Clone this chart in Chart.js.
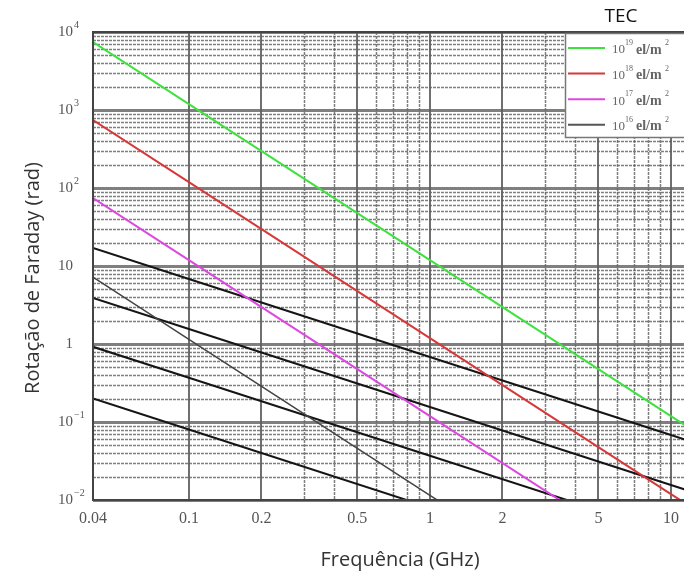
<!DOCTYPE html>
<html>
<head>
<meta charset="utf-8">
<title>Rotação de Faraday</title>
<script src="https://cdn.jsdelivr.net/npm/chart.js@4.4.1/dist/chart.umd.min.js"></script>
<style>
  html, body { margin: 0; padding: 0; background: #fff; overflow: hidden; }
  #wrap { position: relative; width: 700px; height: 574px; }
</style>
</head>
<body>
<div id="wrap"><canvas id="c" width="700" height="574"></canvas></div>
<script>
// Frequencies (GHz) at which each curve is sampled
const freqsGHz = [0.04, 0.1, 1, 10, 20];

// Faraday rotation (rad) for each total electron content
const tec19 = [7450, 1190, 11.9, 0.119, 0.0298];
const tec18 = [745, 119, 1.19, 0.0119, 0.003];
const tec17 = [74.5, 11.9, 0.119, 0.00119, 0.0003];
const tec16 = [17, 6.8, 0.68, 0.068, 0.034];

// Further reference curves (black)
const curveB = [7.2, 1.15, 0.0115, 0.000115, 0.00003];
const curveC = [3.9, 1.56, 0.156, 0.0156, 0.0078];
const curveD = [0.92, 0.37, 0.037, 0.0037, 0.0018];
const curveE = [0.2, 0.08, 0.008, 0.0008, 0.0004];

// Axis ticks and labels
const xTicks = [0.04, 0.1, 0.2, 0.5, 1, 2, 5, 10];
const xTickLabels = ['0.04', '0.1', '0.2', '0.5', '1', '2', '5', '10'];
const xMinorGrid = [0.3, 0.4, 0.6, 0.7, 0.8, 0.9, 3, 4, 6, 7, 8, 9];
const yTicks = [1e4, 1e3, 1e2, 10, 1, 0.1, 0.01];
const yTickBase = ['10', '10', '10', '10', '1', '10', '10'];
const yTickExp = ['4', '3', '2', '', '', '\u22121', '\u22122'];

// Legend entries
const legendExp = ['19', '18', '17', '16'];

const pts = vals => freqsGHz.map((f, i) => ({ x: f, y: vals[i] }));

const serif = '"Liberation Serif", "Times New Roman", serif';
const sans = '"Open Sans", "Noto Sans", sans-serif';

const framePlugin = {
  id: 'frame',
  beforeDatasetsDraw(chart) {
    const { ctx, chartArea: a, scales: { x, y } } = chart;
    ctx.save();
    // horizontal minor grid
    ctx.setLineDash([3, 1]);
    ctx.lineWidth = 1.5;
    ctx.strokeStyle = 'rgba(95,95,95,0.8)';
    for (let e = -2; e < 4; e++) {
      for (let m = 2; m <= 9; m++) {
        const py = Math.round(y.getPixelForValue(m * Math.pow(10, e))) + 0.5;
        ctx.beginPath(); ctx.moveTo(a.left, py); ctx.lineTo(a.right, py); ctx.stroke();
      }
    }
    // vertical minor grid
    xMinorGrid.forEach(v => {
      const px = Math.round(x.getPixelForValue(v)) + 0.5;
      ctx.beginPath(); ctx.moveTo(px, a.top); ctx.lineTo(px, a.bottom); ctx.stroke();
    });
    ctx.setLineDash([]);
    // horizontal decade lines
    ctx.lineWidth = 3;
    ctx.strokeStyle = 'rgba(105,105,105,0.85)';
    yTicks.forEach(v => {
      const py = Math.round(y.getPixelForValue(v)) + 0.5;
      ctx.beginPath(); ctx.moveTo(a.left, py); ctx.lineTo(a.right, py); ctx.stroke();
    });
    // vertical major grid
    ctx.lineWidth = 2;
    ctx.strokeStyle = 'rgba(95,95,95,0.9)';
    xTicks.forEach(v => {
      const px = Math.round(x.getPixelForValue(v));
      ctx.beginPath(); ctx.moveTo(px, a.top); ctx.lineTo(px, a.bottom); ctx.stroke();
    });
    ctx.restore();
  },
  afterDatasetsDraw(chart) {
    const { ctx, chartArea: a, scales: { x, y } } = chart;
    ctx.save();
    // frame
    ctx.strokeStyle = '#444';
    ctx.lineWidth = 2;
    ctx.beginPath();
    ctx.moveTo(a.right + 2, a.top); ctx.lineTo(a.left, a.top);
    ctx.lineTo(a.left, a.bottom); ctx.lineTo(a.right + 2, a.bottom);
    ctx.stroke();

    // y tick labels with exponents
    ctx.fillStyle = '#555';
    ctx.textBaseline = 'middle';
    yTicks.forEach((v, i) => {
      const py = y.getPixelForValue(v);
      ctx.font = '15px ' + serif;
      ctx.textAlign = 'right';
      ctx.fillText(yTickBase[i], 73, py);
      if (yTickExp[i]) {
        ctx.font = '10px ' + serif;
        ctx.textAlign = 'left';
        ctx.fillText(yTickExp[i], 74, py - 7);
      }
    });
    // x tick labels
    ctx.font = '16px ' + serif;
    ctx.textAlign = 'center';
    xTicks.forEach((v, i) => {
      ctx.fillText(xTickLabels[i], x.getPixelForValue(v), 519);
    });

    // axis titles
    ctx.fillStyle = '#333';
    ctx.font = '20px ' + sans;
    ctx.fillText('Frequência (GHz)', 400, 560);
    ctx.save();
    ctx.translate(33, 278);
    ctx.rotate(-Math.PI / 2);
    ctx.fillText('Rotação de Faraday (rad)', 0, 0);
    ctx.restore();

    // legend
    ctx.fillStyle = '#111';
    ctx.font = '19px ' + sans;
    ctx.fillText('TEC', 621, 17);
    ctx.fillStyle = '#fff';
    ctx.fillRect(565, 33, 200, 104);
    ctx.strokeStyle = '#777';
    ctx.lineWidth = 1.5;
    ctx.strokeRect(565.5, 33.5, 200, 104);
    [0, 1, 2, 3].forEach((di, k) => {
      const ds = chart.data.datasets[di];
      const ly = 48 + k * 25.6;
      ctx.strokeStyle = di === 3 ? '#555' : ds.borderColor;
      ctx.lineWidth = 2;
      ctx.beginPath(); ctx.moveTo(568, ly); ctx.lineTo(605, ly); ctx.stroke();
      ctx.fillStyle = '#666';
      ctx.textAlign = 'left';
      ctx.font = '13px ' + serif;
      ctx.fillText('10', 612, ly + 2);
      ctx.font = '8px ' + serif;
      ctx.fillText(legendExp[k], 625, ly - 5);
      ctx.font = 'bold 14px ' + serif;
      ctx.fillText('el/m', 636, ly + 2);
      ctx.font = '8px ' + serif;
      ctx.fillText('2', 665, ly - 5);
    });
    ctx.restore();
  }
};

const lineDs = (label, vals, color, width) => ({
  label, data: pts(vals), borderColor: color, backgroundColor: color,
  borderWidth: width, pointRadius: 0, tension: 0, fill: false
});

new Chart(document.getElementById('c'), {
  type: 'line',
  data: {
    datasets: [
      lineDs('10^19 el/m^2', tec19, '#3ee23e', 2),
      lineDs('10^18 el/m^2', tec18, '#d6393a', 2),
      lineDs('10^17 el/m^2', tec17, '#dd48e0', 2),
      lineDs('10^16 el/m^2', tec16, '#151515', 2),
      lineDs('B', curveB, '#444444', 1.5),
      lineDs('C', curveC, '#151515', 2),
      lineDs('D', curveD, '#151515', 2),
      lineDs('E', curveE, '#151515', 2)
    ]
  },
  options: {
    responsive: false,
    animation: false,
    devicePixelRatio: 1,
    layout: { padding: { left: 93, right: 0, top: 32, bottom: 74 } },
    plugins: { legend: { display: false }, tooltip: { enabled: false } },
    scales: {
      x: { type: 'logarithmic', min: 0.04, max: 13.2, display: false },
      y: { type: 'logarithmic', min: 0.01, max: 10000, display: false }
    }
  },
  plugins: [framePlugin]
});
</script>
</body>
</html>
